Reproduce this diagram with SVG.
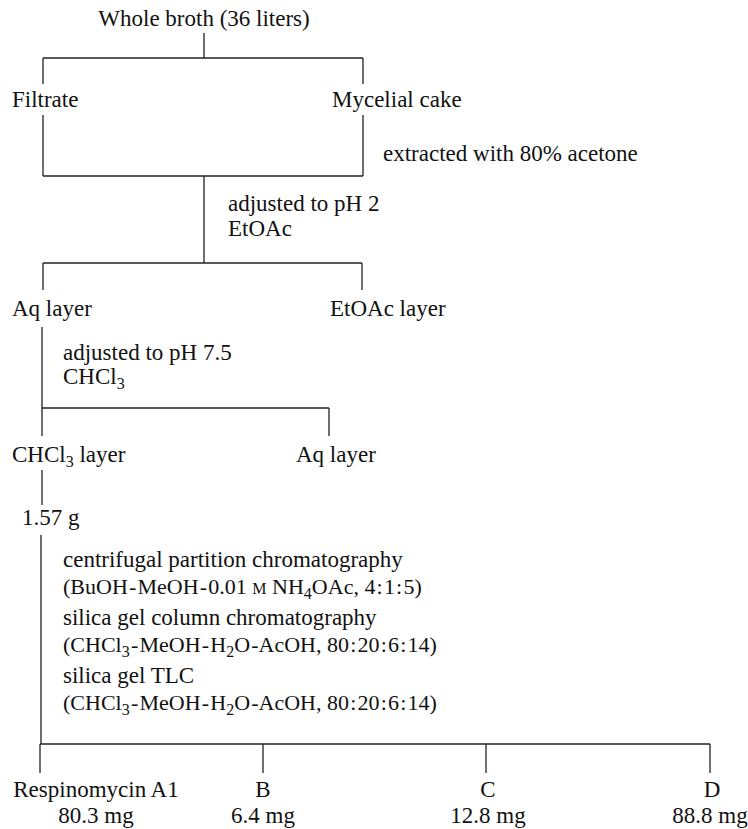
<svg xmlns="http://www.w3.org/2000/svg" width="748" height="829" viewBox="0 0 748 829">
<style>
text{font-family:"Liberation Serif","Times New Roman",serif;font-size:23px;fill:#111}
.s{font-size:16px}
.sc{font-size:16px}
.c{text-anchor:middle}
.f{font-size:22px;word-spacing:-4.3px}
.n{word-spacing:0}
#connectors line{stroke:#222;stroke-width:1.3;fill:none}
</style>
<rect width="748" height="829" fill="#fff"/>
<g id="connectors">
<line x1="204" y1="33" x2="204" y2="58"/>
<line x1="43" y1="58" x2="363" y2="58"/>
<line x1="43" y1="58" x2="43" y2="84"/>
<line x1="363" y1="58" x2="363" y2="84"/>
<line x1="43" y1="115" x2="43" y2="176"/>
<line x1="363" y1="115" x2="363" y2="176"/>
<line x1="43" y1="176" x2="363" y2="176"/>
<line x1="204" y1="176" x2="204" y2="263"/>
<line x1="43" y1="263" x2="362" y2="263"/>
<line x1="43" y1="263" x2="43" y2="290"/>
<line x1="362" y1="263" x2="362" y2="290"/>
<line x1="42" y1="327" x2="42" y2="408"/>
<line x1="42" y1="408" x2="329" y2="408"/>
<line x1="42" y1="408" x2="42" y2="436"/>
<line x1="329" y1="408" x2="329" y2="436"/>
<line x1="42" y1="470" x2="42" y2="505"/>
<line x1="41" y1="535" x2="41" y2="744"/>
<line x1="40" y1="744" x2="710" y2="744"/>
<line x1="40" y1="744" x2="40" y2="773"/>
<line x1="263" y1="744" x2="263" y2="773"/>
<line x1="486" y1="744" x2="486" y2="773"/>
<line x1="710" y1="744" x2="710" y2="773"/>
</g>
<g id="whole-broth"><text x="204" y="26" class="c">Whole broth (36 liters)</text></g>
<g id="filtrate"><text x="12" y="107">Filtrate</text></g>
<g id="mycelial-cake"><text x="332" y="107">Mycelial cake</text></g>
<g id="step-acetone"><text x="383" y="161">extracted with 80% acetone</text></g>
<g id="step-ph2"><text x="228" y="211">adjusted to pH 2</text><text x="228" y="236">EtOAc</text></g>
<g id="aq-layer-1"><text x="12" y="316">Aq layer</text></g>
<g id="etoac-layer"><text x="330" y="316">EtOAc layer</text></g>
<g id="step-ph75"><text x="63" y="360">adjusted to pH 7.5</text><text x="63" y="384">CHCl<tspan class="s" dy="5">3</tspan></text></g>
<g id="chcl3-layer"><text x="12" y="462">CHCl<tspan class="s" dy="5">3</tspan><tspan dy="-5"> layer</tspan></text></g>
<g id="aq-layer-2"><text x="296" y="462">Aq layer</text></g>
<g id="crude"><text x="22" y="525">1.57 g</text></g>
<g id="step-chrom">
<text x="63" y="567">centrifugal partition chromatography</text>
<text x="63" y="594" class="f">(BuOH - MeOH - 0.01<tspan class="n"> </tspan><tspan class="sc">M</tspan><tspan class="n"> NH</tspan><tspan class="s" dy="5">4</tspan><tspan dy="-5">OAc,</tspan><tspan class="n"> 4</tspan> : 1 : 5)</text>
<text x="63" y="625">silica gel column chromatography</text>
<text x="63" y="652" class="f">(CHCl<tspan class="s" dy="5">3</tspan><tspan dy="-5"> - MeOH - H</tspan><tspan class="s" dy="5">2</tspan><tspan dy="-5">O - AcOH,</tspan><tspan class="n"> 80</tspan> : 20 : 6 : 14)</text>
<text x="63" y="683">silica gel TLC</text>
<text x="63" y="710" class="f">(CHCl<tspan class="s" dy="5">3</tspan><tspan dy="-5"> - MeOH - H</tspan><tspan class="s" dy="5">2</tspan><tspan dy="-5">O - AcOH,</tspan><tspan class="n"> 80</tspan> : 20 : 6 : 14)</text>
</g>
<g id="respinomycin-a1"><text x="96" y="797" class="c">Respinomycin A1</text><text x="96" y="823" class="c">80.3 mg</text></g>
<g id="respinomycin-b"><text x="263" y="797" class="c">B</text><text x="263" y="823" class="c">6.4 mg</text></g>
<g id="respinomycin-c"><text x="488" y="797" class="c">C</text><text x="488" y="823" class="c">12.8 mg</text></g>
<g id="respinomycin-d"><text x="712" y="797" class="c">D</text><text x="710" y="823" class="c">88.8 mg</text></g>
</svg>
